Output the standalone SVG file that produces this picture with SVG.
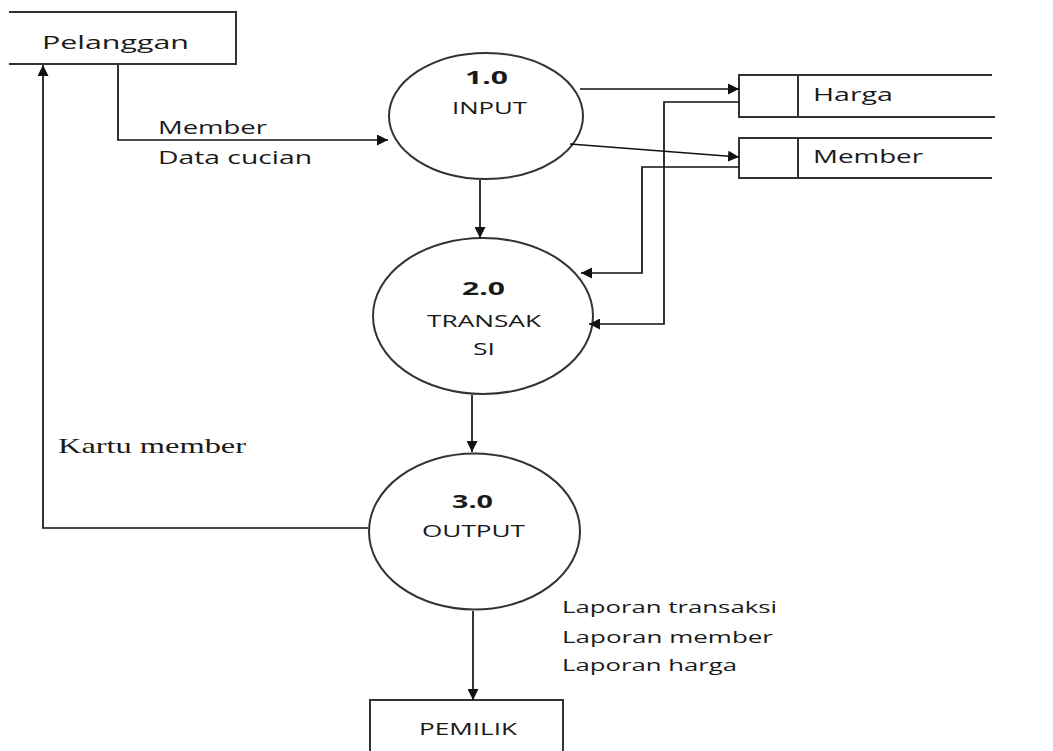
<svg xmlns="http://www.w3.org/2000/svg" width="1053" height="751" viewBox="0 0 1053 751">
<style>
.shape{fill:#fff;stroke:#333;stroke-width:2}
.line{fill:none;stroke:#111;stroke-width:1.7}
.t{font-family:"Open Sans","Noto Sans","Liberation Sans",sans-serif;fill:#1a1a1a}
.lbl{font-size:19px}
.nd{font-size:17px}
.num{font-size:17px;font-weight:bold}
.serif{font-family:"Liberation Serif","Times New Roman",serif;font-size:22px;fill:#1a1a1a}
</style>
<defs>
<marker id="arr" viewBox="0 0 10 10" refX="10" refY="5" markerWidth="11" markerHeight="11" markerUnits="userSpaceOnUse" orient="auto">
<path d="M0,0 L10,5 L0,10 z" fill="#111"/>
</marker>
</defs>
<rect width="1053" height="751" fill="#fff"/>

<g id="pelanggan">
<path class="shape" d="M9,12 H236 V64 H9"/>
<text class="t lbl" x="42" y="49" textLength="147" lengthAdjust="spacingAndGlyphs">Pelanggan</text>
</g>

<g id="label-member">
<text class="t lbl" x="158" y="134" textLength="109" lengthAdjust="spacingAndGlyphs">Member</text>
<text class="t lbl" x="158" y="164" textLength="154" lengthAdjust="spacingAndGlyphs">Data cucian</text>
</g>

<g id="p1">
<ellipse class="shape" cx="486" cy="116" rx="97" ry="63"/>
<text class="t num" x="465" y="84" textLength="43" lengthAdjust="spacingAndGlyphs">1.0</text>
<text class="t nd" x="452" y="114" textLength="75" lengthAdjust="spacingAndGlyphs">INPUT</text>
</g>

<g id="p2">
<ellipse class="shape" cx="483" cy="316" rx="110" ry="78"/>
<text class="t num" x="462" y="295" textLength="43" lengthAdjust="spacingAndGlyphs">2.0</text>
<text class="t nd" x="427" y="327" textLength="114" lengthAdjust="spacingAndGlyphs">TRANSAK</text>
<text class="t nd" x="473" y="355" textLength="22" lengthAdjust="spacingAndGlyphs">SI</text>
</g>

<g id="p3">
<ellipse class="shape" cx="474.5" cy="531.5" rx="105.5" ry="78"/>
<text class="t num" x="452" y="508" textLength="41" lengthAdjust="spacingAndGlyphs">3.0</text>
<text class="t nd" x="422" y="537" textLength="103" lengthAdjust="spacingAndGlyphs">OUTPUT</text>
</g>

<g id="store-harga">
<path class="shape" d="M992,75 H739 V117 H995"/>
<line class="shape" x1="798" y1="75" x2="798" y2="117"/>
<text class="t lbl" x="813" y="101" textLength="80" lengthAdjust="spacingAndGlyphs">Harga</text>
</g>

<g id="store-member">
<path class="shape" d="M992,138 H739 V178 H992"/>
<line class="shape" x1="798" y1="138" x2="798" y2="178"/>
<text class="t lbl" x="813" y="163" textLength="110" lengthAdjust="spacingAndGlyphs">Member</text>
</g>

<g id="label-kartu">
<text class="serif" x="58" y="453" textLength="188" lengthAdjust="spacingAndGlyphs">Kartu member</text>
</g>

<g id="label-laporan">
<text class="t nd" x="562" y="613" textLength="215" lengthAdjust="spacingAndGlyphs">Laporan transaksi</text>
<text class="t nd" x="562" y="643" textLength="211" lengthAdjust="spacingAndGlyphs">Laporan member</text>
<text class="t nd" x="562" y="671" textLength="175" lengthAdjust="spacingAndGlyphs">Laporan harga</text>
</g>

<g id="pemilik">
<rect class="shape" x="370" y="700" width="193" height="60"/>
<text class="t nd" x="419" y="735" textLength="98" lengthAdjust="spacingAndGlyphs">PEMILIK</text>
</g>

<g id="connectors">
<path class="line" d="M118,65 V140 H388" marker-end="url(#arr)"/>
<path class="line" d="M368,528 H43 V65" marker-end="url(#arr)"/>
<path class="line" d="M480,180 V238" marker-end="url(#arr)"/>
<path class="line" d="M472,395 V452" marker-end="url(#arr)"/>
<path class="line" d="M473,611 V700" marker-end="url(#arr)"/>
<path class="line" d="M580,89 H739" marker-end="url(#arr)"/>
<path class="line" d="M570,144 L739,157" marker-end="url(#arr)"/>
<path class="line" d="M739,102 H664 V324 H589" marker-end="url(#arr)"/>
<path class="line" d="M739,167 H642 V273 H581" marker-end="url(#arr)"/>
</g>
</svg>
